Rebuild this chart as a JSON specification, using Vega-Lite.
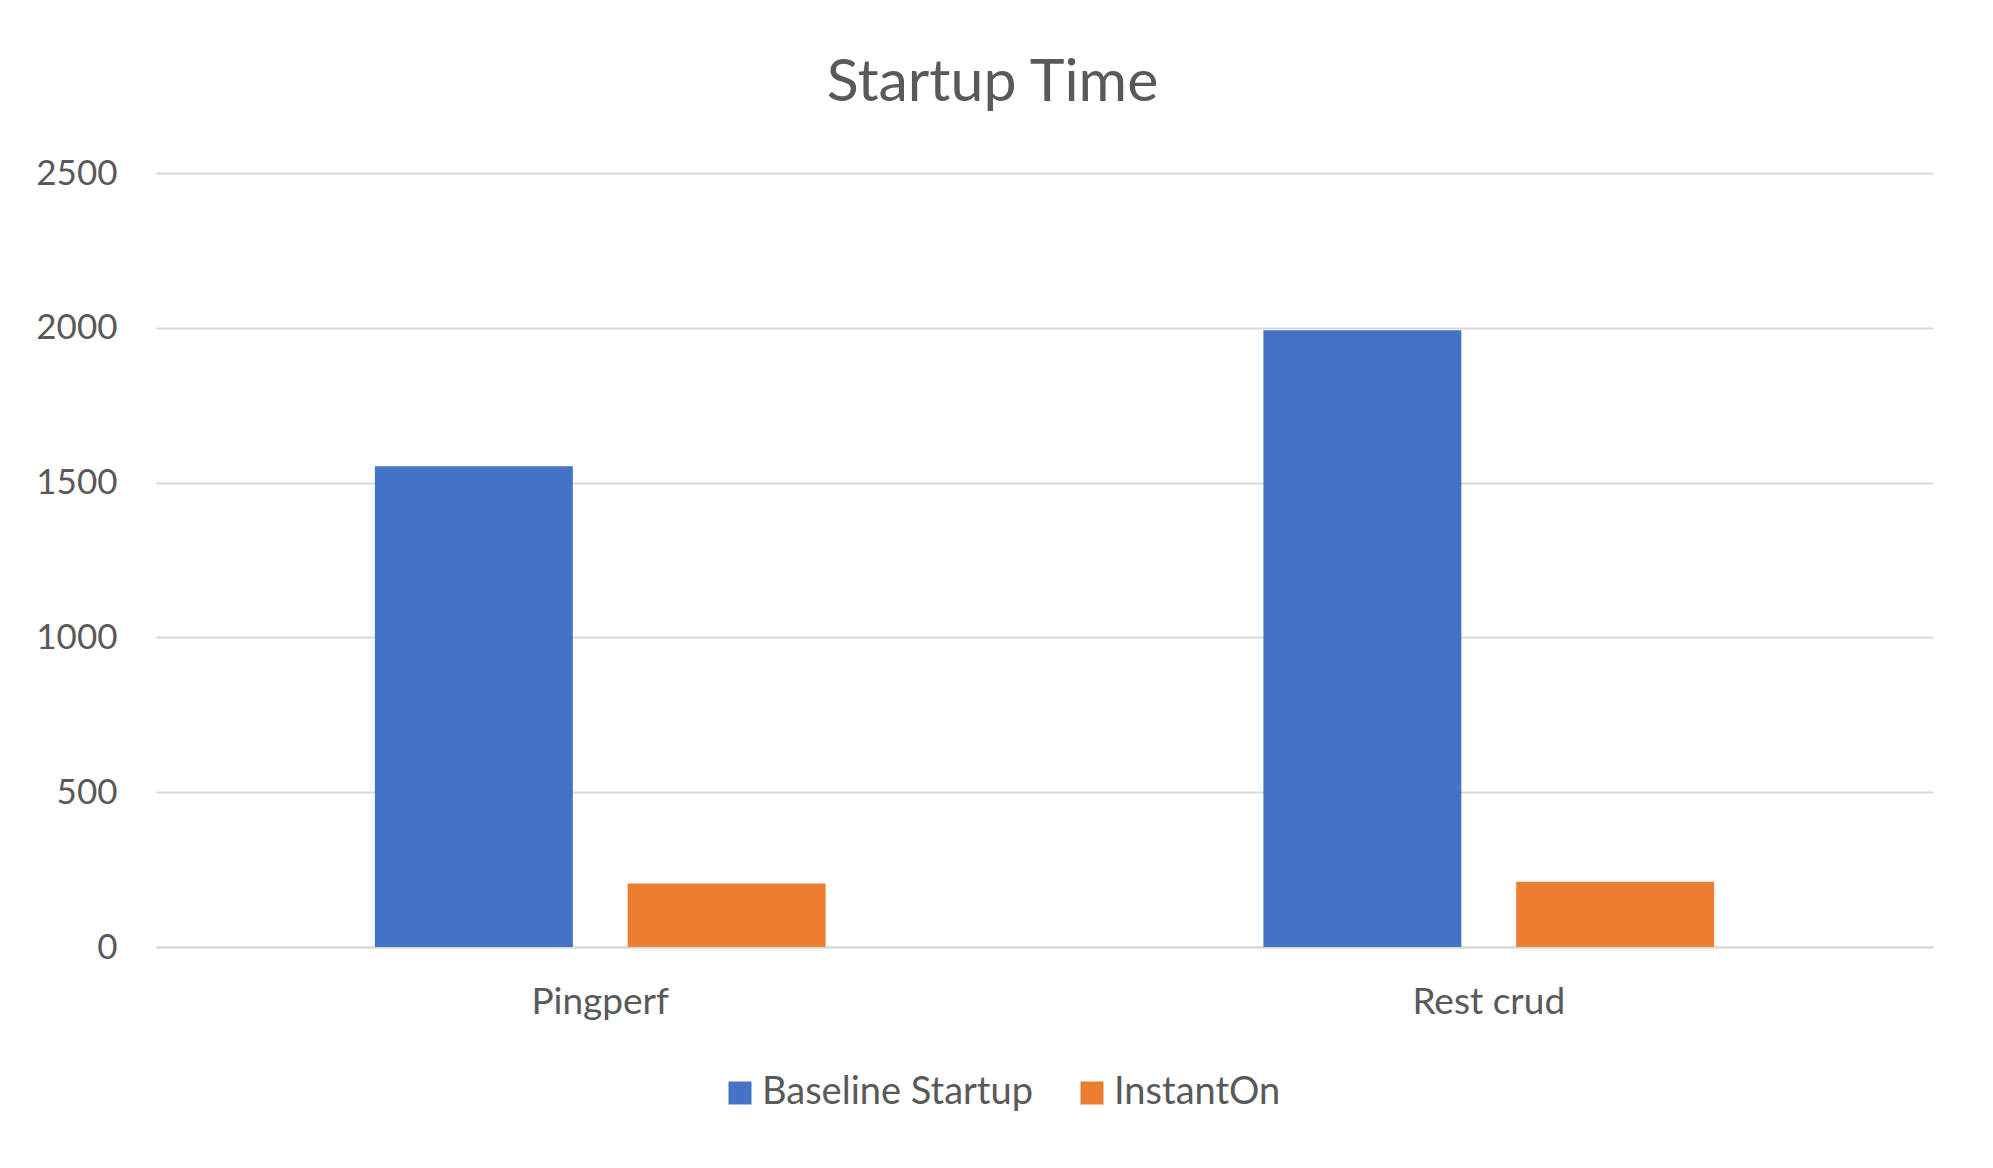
{
  "$schema": "https://vega.github.io/schema/vega-lite/v6.json",
  "width": 1777,
  "height": 774,
  "autosize": {"type": "none"},
  "padding": {"left": 156, "top": 173, "right": 60, "bottom": 221},
  "background": "white",
  "title": {
    "text": "Startup Time",
    "font": "Lato",
    "fontSize": 59,
    "fontWeight": "normal",
    "color": "#595959",
    "anchor": "middle",
    "frame": "group",
    "dx": -52,
    "offset": 43
  },
  "data": {
    "values": [
      {"app": "Pingperf", "series": "Baseline Startup", "ms": 1553},
      {"app": "Pingperf", "series": "InstantOn", "ms": 205},
      {"app": "Rest crud", "series": "Baseline Startup", "ms": 1992},
      {"app": "Rest crud", "series": "InstantOn", "ms": 211}
    ]
  },
  "mark": {"type": "bar"},
  "encoding": {
    "x": {
      "field": "app",
      "type": "nominal",
      "sort": ["Pingperf", "Rest crud"],
      "scale": {"paddingInner": 0, "paddingOuter": 0},
      "axis": {
        "title": null,
        "labelAngle": 0,
        "labelFont": "Lato",
        "labelFontSize": 37,
        "labelColor": "#595959",
        "ticks": false,
        "domainColor": "#d9d9d9",
        "domainWidth": 2,
        "labelPadding": 37
      }
    },
    "xOffset": {
      "field": "series",
      "type": "nominal",
      "sort": ["Baseline Startup", "InstantOn"],
      "scale": {"paddingInner": 0.217, "paddingOuter": 0.866}
    },
    "y": {
      "field": "ms",
      "type": "quantitative",
      "scale": {"domain": [0, 2500], "nice": false},
      "axis": {
        "title": null,
        "values": [0, 500, 1000, 1500, 2000, 2500],
        "format": "d",
        "grid": true,
        "gridColor": "#d9d9d9",
        "gridWidth": 2,
        "domain": false,
        "ticks": false,
        "labelPadding": 39,
        "labelFont": "Lato",
        "labelFontSize": 35,
        "labelColor": "#595959"
      }
    },
    "color": {
      "field": "series",
      "type": "nominal",
      "sort": ["Baseline Startup", "InstantOn"],
      "scale": {"range": ["#4472C4", "#ED7D31"]},
      "legend": {
        "orient": "none",
        "legendX": 565,
        "legendY": 901,
        "direction": "horizontal",
        "title": null,
        "symbolType": "square",
        "symbolSize": 529,
        "symbolStrokeWidth": 0,
        "symbolOpacity": 1,
        "labelFont": "Lato",
        "labelFontSize": 38,
        "labelColor": "#595959",
        "labelLimit": 500,
        "labelOffset": 3,
        "columnPadding": 40
      }
    }
  },
  "config": {"view": {"stroke": null}}
}
